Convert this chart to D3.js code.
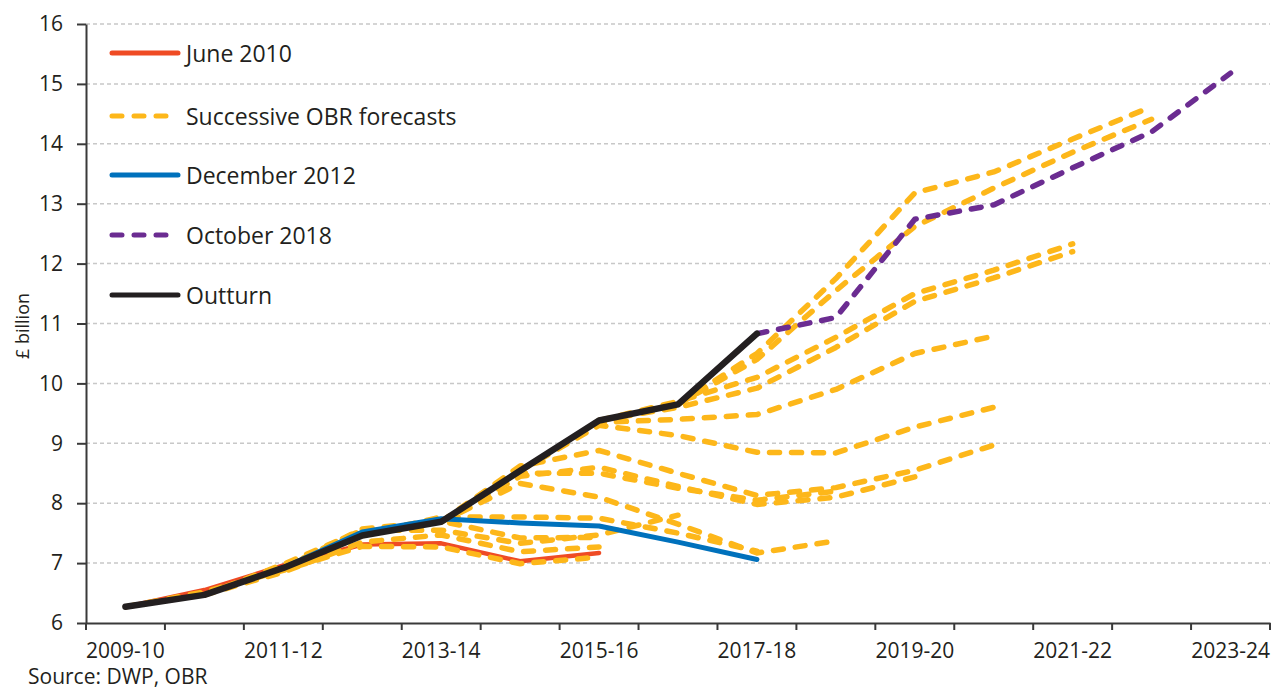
<!DOCTYPE html>
<html>
<head>
<meta charset="utf-8">
<script src="https://cdn.jsdelivr.net/npm/d3@7"></script>
<style>
  body { margin: 0; background: #fff; }
  text { font-family: "Open Sans", sans-serif; fill: #231f20; }
</style>
</head>
<body>
<svg width="1277" height="691"></svg>
<script>
// financial years on the x axis
const years = ["2009-10","2010-11","2011-12","2012-13","2013-14","2014-15","2015-16",
               "2016-17","2017-18","2018-19","2019-20","2020-21","2021-22","2022-23","2023-24"];
const tickLabels = ["2009-10","2011-12","2013-14","2015-16","2017-18","2019-20","2021-22","2023-24"];
const yTicks = [6,7,8,9,10,11,12,13,14,15,16];

// £ billion, null where a series has no value
const outturn  = [6.27,6.47,6.92,7.46,7.69,8.54,9.38,9.65,10.83,null,null,null,null,null,null];
const june2010 = [6.27,6.55,6.96,7.31,7.33,7.03,7.17,null,null,null,null,null,null,null,null];
const dec2012  = [null,null,6.92,7.52,7.74,7.67,7.62,7.35,7.06,null,null,null,null,null,null];
const oct2018  = [null,null,null,null,null,null,null,null,10.83,11.10,12.74,12.98,13.60,14.20,15.18];

// the other OBR forecasts (all drawn the same way)
const obrForecasts = [
  [6.27,6.52,6.88,7.28,7.27,6.99,7.10,null,null,null,null,null,null,null,null],
  [null,6.47,6.85,7.35,7.47,7.19,7.27,null,null,null,null,null,null,null,null],
  [null,6.47,6.98,7.55,7.55,7.33,7.47,7.80,null,null,null,null,null,null,null],
  [null,null,6.92,7.57,7.70,7.42,7.43,null,null,null,null,null,null,null,null],
  [null,null,null,7.46,7.77,7.77,7.75,7.50,7.20,null,null,null,null,null,null],
  [null,null,null,null,7.69,8.33,8.10,7.65,7.17,7.37,null,null,null,null,null],
  [null,null,null,null,7.69,8.50,8.50,8.25,8.05,8.20,null,null,null,null,null],
  [null,null,null,null,7.69,8.45,8.60,8.28,7.98,8.10,8.44,null,null,null,null],
  [null,null,null,null,7.69,8.62,8.88,8.50,8.13,8.26,8.55,8.97,null,null,null],
  [null,null,null,null,null,8.54,9.30,9.13,8.85,8.84,9.27,9.60,null,null,null],
  [null,null,null,null,null,8.54,9.35,9.40,9.48,9.90,10.50,10.79,null,null,null],
  [null,null,null,null,null,null,9.38,9.60,9.92,10.60,11.37,11.76,12.20,null,null],
  [null,null,null,null,null,null,9.38,9.70,10.10,10.77,11.50,11.89,12.33,null,null],
  [null,null,null,null,null,null,null,9.65,10.40,11.55,12.62,13.26,13.86,14.41,null],
  [null,null,null,null,null,null,null,9.65,10.50,11.75,13.18,13.53,14.08,14.62,null]
];

const legendItems = [
  {name: "June 2010", color: "#ef4b24", dash: null},
  {name: "Successive OBR forecasts", color: "#fdb71a", dash: "10,12"},
  {name: "December 2012", color: "#0071bc", dash: null},
  {name: "October 2018", color: "#6b2c91", dash: "10,12"},
  {name: "Outturn", color: "#231f20", dash: null}
];

const svg = d3.select("svg");
const plotLeft = 86, plotRight = 1270, plotTop = 24, plotBottom = 623;

const x = d3.scaleBand().domain(years).range([plotLeft, plotRight]);
const y = d3.scaleLinear().domain([6, 16]).range([plotBottom, plotTop]);
const cx = yr => x(yr) + x.bandwidth() / 2;

// gridlines
svg.append("g").selectAll("line")
  .data(yTicks.slice(1))
  .join("line")
  .attr("x1", plotLeft).attr("x2", plotRight)
  .attr("y1", d => y(d)).attr("y2", d => y(d))
  .attr("stroke", "#c8c8c8").attr("stroke-width", 1.5)
  .attr("stroke-dasharray", "4,3");

// y axis
const gy = svg.append("g").attr("transform", `translate(${plotLeft},0)`)
  .call(d3.axisLeft(y).tickValues(yTicks).tickSize(9).tickSizeOuter(0).tickPadding(14));
gy.select(".domain").attr("stroke", "#3a3a3a").attr("stroke-width", 2);
gy.selectAll(".tick line").attr("stroke", "#3a3a3a").attr("stroke-width", 2);
gy.selectAll("text").style("font-size", "21px").style("font-family", "Open Sans").attr("fill", "#231f20");

// x axis: labels on every other band, ticks on band edges
const gx = svg.append("g").attr("transform", `translate(0,${plotBottom})`)
  .call(d3.axisBottom(x).tickSize(0).tickPadding(20)
    .tickFormat(d => tickLabels.includes(d) ? d : ""));
gx.select(".domain").attr("stroke", "#3a3a3a").attr("stroke-width", 2);
gx.selectAll("text").style("font-size", "21px").style("font-family", "Open Sans").attr("fill", "#231f20");
gx.append("g").selectAll("line")
  .data(years.map(d => x(d)).concat([plotRight]))
  .join("line")
  .attr("x1", d => d).attr("x2", d => d)
  .attr("y1", 0).attr("y2", 7)
  .attr("stroke", "#3a3a3a").attr("stroke-width", 2);

// lines
const line = d3.line()
  .defined(d => d != null)
  .x((d, i) => cx(years[i]))
  .y(d => y(d));

function draw(values, color, width, dash) {
  svg.append("path")
    .datum(values)
    .attr("d", line)
    .attr("fill", "none")
    .attr("stroke", color)
    .attr("stroke-width", width)
    .attr("stroke-linejoin", "round")
    .attr("stroke-linecap", "round")
    .attr("stroke-dasharray", dash);
}

draw(june2010, legendItems[0].color, 4.5, null);
obrForecasts.forEach(f => draw(f, legendItems[1].color, 5.5, legendItems[1].dash));
draw(dec2012, legendItems[2].color, 5, null);
draw(oct2018, legendItems[3].color, 5.5, legendItems[3].dash);
draw(outturn, legendItems[4].color, 6.5, null);

// legend
const legendY = [53, 116, 175, 235, 295];
const lg = svg.append("g");
legendItems.forEach((d, i) => {
  lg.append("line")
    .attr("x1", 112).attr("x2", 178)
    .attr("y1", legendY[i]).attr("y2", legendY[i])
    .attr("stroke", d.color).attr("stroke-width", 5)
    .attr("stroke-linecap", "round")
    .attr("stroke-dasharray", d.dash);
  lg.append("text")
    .attr("x", 186).attr("y", legendY[i])
    .attr("dominant-baseline", "central")
    .style("font-size", "23px")
    .text(d.name);
});

// axis title and source
svg.append("text")
  .attr("transform", "translate(22,326) rotate(-90)")
  .attr("text-anchor", "middle")
  .attr("dominant-baseline", "central")
  .style("font-size", "18px")
  .text("£ billion");

svg.append("text")
  .attr("x", 28).attr("y", 684)
  .style("font-size", "21px")
  .text("Source: DWP, OBR");
</script>
</body>
</html>
